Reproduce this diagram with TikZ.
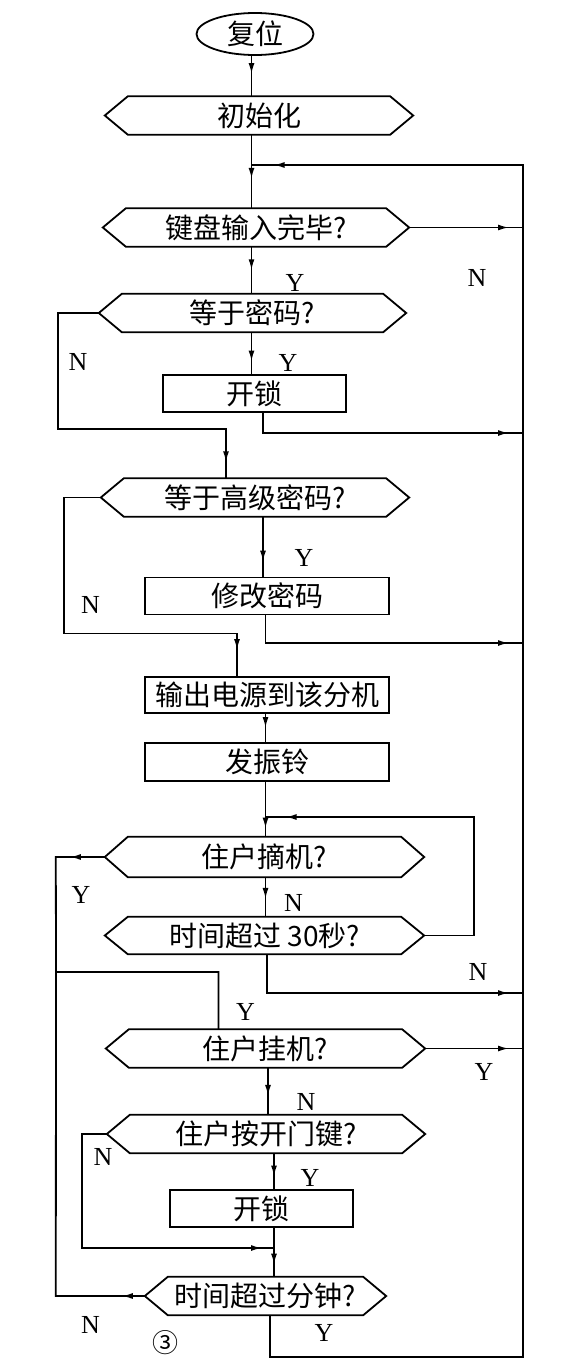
\documentclass[tikz,border=0pt]{standalone}
\usepackage{fontspec}
\newfontfamily\cjk{Noto Sans CJK SC}
\newfontfamily\lab{Liberation Serif}
\usepackage{tikz}
\usetikzlibrary{arrows.meta,positioning,calc,shapes.geometric,decorations.markings}
\tikzset{
  ln/.style={line width=1.8pt},
  marr/.style={postaction={decorate,decoration={markings,
      mark=at position #1 with {\arrow{Latex[length=11pt,width=6pt]}}}}},
  marr/.default=0.5,
  ovalbox/.style={ellipse,draw,line width=1.8pt,minimum width=117pt,minimum height=42pt,inner sep=0pt},
  procbox/.style={rectangle,draw,line width=1.8pt,minimum height=37pt,inner sep=0pt},
  hexbox/.style={rectangle,minimum height=38pt,inner sep=0pt,
    append after command={\pgfextra{\draw[ln,line join=miter]
      (\tikzlastnode.west) -- ([xshift=23pt]\tikzlastnode.north west)
      -- ([xshift=-23pt]\tikzlastnode.north east) -- (\tikzlastnode.east)
      -- ([xshift=-23pt]\tikzlastnode.south east)
      -- ([xshift=23pt]\tikzlastnode.south west) -- cycle;}}},
  yn/.style={font=\lab\fontsize{26}{28}\selectfont},
}
\begin{document}
\begin{tikzpicture}[x=1pt,y=-1pt,font=\cjk\fontsize{28}{30}\selectfont]
  \useasboundingbox (0,0) rectangle (568,1371);
  % --- bloklar ---
  \node[ovalbox] (reset) at (255,34) {复位};
  \node[hexbox,minimum width=308pt] (init)  at (259,115.5) {初始化};
  \node[hexbox,minimum width=306pt] (keyin) at (256,227.5) {键盘输入完毕?};
  \node[hexbox,minimum width=307pt] (eqpw)  at (252.5,313) {等于密码?};
  \node[procbox,minimum width=183pt] (unlk1) at (254.5,393.5) {开锁};
  \node[hexbox,minimum width=308pt] (eqsup) at (255,497.5) {等于高级密码?};
  \node[procbox,minimum width=244pt] (modpw) at (267,596) {修改密码};
  \node[procbox,minimum width=244pt,minimum height=36pt] (pwout) at (267,695) {输出电源到该分机};
  \node[procbox,minimum width=244pt,minimum height=38pt] (ring) at (267,762) {发振铃};
  \node[hexbox,minimum width=319pt,minimum height=40pt] (offhk) at (264.5,857) {住户摘机?};
  \node[hexbox,minimum width=319pt,minimum height=37pt] (tm30) at (264.5,935.5) {时间超过 30秒?};
  \node[hexbox,minimum width=319pt] (onhk) at (265.5,1048.5) {住户挂机?};
  \node[hexbox,minimum width=318pt] (dkey) at (266,1134) {住户按开门键?};
  \node[procbox,minimum width=183pt] (unlk2) at (261.5,1208.5) {开锁};
  \node[hexbox,minimum width=241pt,minimum height=38pt] (tm1m) at (265.5,1296) {时间超过分钟?};
  % --- ustunlar va tugunlar ---
  \coordinate (xA) at (251.5,0);
  \coordinate (xB) at (226,0);
  \coordinate (xC) at (263,0);
  \coordinate (xD) at (237,0);
  \coordinate (xE) at (265.5,0);
  \coordinate (xF) at (267,0);
  \coordinate (xG) at (218.5,0);
  \coordinate (xH) at (268,0);
  \coordinate (xJ) at (274,0);
  \coordinate (xK) at (270,0);
  \coordinate (xR) at (523,0);
  \coordinate (rTop) at (523,165);
  \coordinate (r1) at (523,433);
  \coordinate (r2) at (523,643);
  \coordinate (r3) at (523,993);
  \coordinate (rBot) at (523,1357);
  \coordinate (lp) at (265.5,817);
  \coordinate (jL) at (56,972);
  \coordinate (jB) at (274,1248);
  % --- asosiy oqim ---
  \draw[ln,marr=0.45] (reset.south -| xA) -- (init.north -| xA);
  \draw[ln,marr=0.6] (init.south -| xA) -- (keyin.north -| xA);
  \draw[ln,marr=0.5] (keyin.south -| xA) -- (eqpw.north -| xA);
  \draw[ln,marr=0.7] (eqpw.south -| xA) -- (unlk1.north -| xA);
  \draw[ln,marr=-14pt] (keyin.east) -- (keyin.east -| xR);
  \draw[ln,marr=-16pt] (eqpw.west) -- ++(-41,0) -- ++(0,116) -| (eqsup.north -| xB);
  \draw[ln,marr=-14pt] (unlk1.south -| xC) |- (r1);
  \draw[ln,marr=0.75] (eqsup.south -| xC) -- (modpw.north -| xC);
  \draw[ln,marr=-26pt] (eqsup.west) -- ++(-36.5,0) -- ++(0,136) -| (pwout.north -| xD);
  \draw[ln,marr=-14pt] (modpw.south -| xE) |- (r2);
  \draw[ln,marr=0.5] (pwout.south -| xE) -- (ring.north -| xE);
  \draw[ln,marr=0.85] (ring.south -| xE) -- (offhk.north -| xE);
  % kutish halqasi
  \draw[ln,marr=0.55] (offhk.south -| xE) -- (tm30.north -| xE);
  \draw[ln,marr=-20pt] (tm30.east) -- ++(49.5,0) |- (lp);
  \draw[ln,marr=-14pt] (tm30.south -| xF) |- (r3);
  \draw[ln,marr=35pt] (offhk.west) -- ++(-49,0) -- (jL) -| (onhk.north -| xG);
  \draw[ln,marr=23pt] (tm1m.west) -- ++(-89,0) -- (jL);
  % suhbat
  \draw[ln,marr=-14pt] (onhk.east) -- (onhk.east -| xR);
  \draw[ln,marr=0.6] (onhk.south -| xH) -- (dkey.north -| xH);
  \draw[ln,marr=-12pt] (dkey.west) -- ++(-25,0) |- (jB);
  \draw[ln,marr=0.65] (dkey.south -| xJ) -- (unlk2.north -| xJ);
  \draw[ln,marr=0.75] (unlk2.south -| xJ) -- (tm1m.north -| xJ);
  \draw[ln,marr=-22pt] (tm1m.south -| xK) |- (rBot) -- (rTop) -- (rTop -| xA);
  % --- Y/N belgilari ---
  \node[yn] (y1) at (295,283) {Y};
  \node[yn] (n1) at (477,278) {N};
  \node[yn] (n2) at (78,362) {N};
  \node[yn] (y2) at (288,363) {Y};
  \node[yn] (y3) at (304,558) {Y};
  \node[yn] (n3) at (90.5,605) {N};
  \node[yn] (y4) at (81,895) {Y};
  \node[yn] (n4) at (293.5,903) {N};
  \node[yn] (n5) at (478,972) {N};
  \node[yn] (y5) at (245.5,1012) {Y};
  \node[yn] (y6) at (484,1072) {Y};
  \node[yn] (n6) at (306,1102) {N};
  \node[yn] (n7) at (103,1157) {N};
  \node[yn] (y7) at (310,1178) {Y};
  \node[yn] (n8) at (90.5,1325) {N};
  \node[yn] (y8) at (324,1333) {Y};
  \node[font=\cjk\fontsize{26}{28}\selectfont] (fig) at (165,1343) {③};
\end{tikzpicture}
\end{document}
